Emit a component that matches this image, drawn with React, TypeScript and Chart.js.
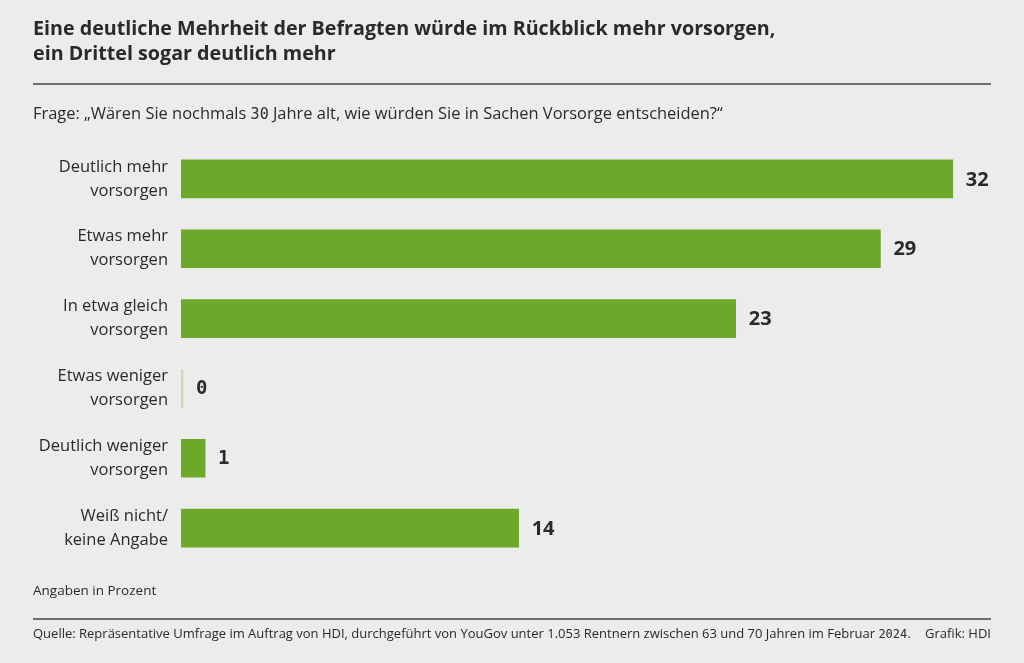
import React, { useEffect, useRef } from "react";
import { Chart, registerables } from "chart.js";

Chart.register(...registerables);

const categories: string[][] = [
  ["Deutlich mehr", "vorsorgen"],
  ["Etwas mehr", "vorsorgen"],
  ["In etwa gleich", "vorsorgen"],
  ["Etwas weniger", "vorsorgen"],
  ["Deutlich weniger", "vorsorgen"],
  ["Weiß nicht/", "keine Angabe"],
];
const values: number[] = [32, 29, 23, 0, 1, 14];
const axisMax = 34;

const GREEN = "#6ea82b";
const ZERO_COLOR = "#cdd7bb";
const TEXT = "#2a2a2a";
const BG = "#ececec";
const SANS = "'Open Sans', 'Noto Sans', sans-serif";
const MONO = "'DejaVu Sans Mono', monospace";

const valueLabels = {
  id: "valueLabels",
  afterDatasetsDraw(chart: any) {
    const ctx = chart.ctx;
    const meta = chart.getDatasetMeta(0);
    ctx.save();
    ctx.fillStyle = TEXT;
    ctx.textBaseline = "middle";
    ctx.textAlign = "left";
    meta.data.forEach((el: any, i: number) => {
      const v = values[i];
      ctx.font = v < 10 ? `bold 19px ${MONO}` : `bold 20px ${SANS}`;
      ctx.fillText(String(v), el.x + 13, el.y + 1);
    });
    ctx.restore();
  },
};

export default function App() {
  const ref = useRef<HTMLCanvasElement>(null);
  useEffect(() => {
    document.body.style.margin = "0";
    const chart = new Chart(ref.current!, {
      type: "bar",
      data: {
        labels: categories,
        datasets: [
          {
            data: values,
            backgroundColor: values.map((v) => (v === 0 ? ZERO_COLOR : GREEN)),
            barThickness: 38,
            minBarLength: 2,
            borderWidth: 0,
          },
        ],
      },
      options: {
        indexAxis: "y",
        animation: false,
        responsive: false,
        maintainAspectRatio: false,
        layout: { padding: { top: 144, bottom: 100, left: 0, right: 23 } },
        plugins: { legend: { display: false }, tooltip: { enabled: false } },
        scales: {
          x: { display: false, min: 0, max: axisMax },
          y: {
            afterFit(scale: any) {
              scale.width = 181;
            },
            grid: { display: false, drawTicks: false },
            border: { display: false },
            ticks: {
              padding: 13,
              color: TEXT,
              font: { family: SANS, size: 16.5, lineHeight: 1.45 },
            },
          },
        },
      },
      plugins: [valueLabels],
    });
    return () => chart.destroy();
  }, []);

  const text = (style: React.CSSProperties, children: React.ReactNode) => (
    <div style={{ position: "absolute", color: TEXT, fontFamily: SANS, whiteSpace: "nowrap", ...style }}>{children}</div>
  );

  return (
    <div style={{ position: "fixed", left: 0, top: 0, width: 1024, height: 663, background: BG, overflow: "hidden" }}>
      <canvas ref={ref} width={1024} height={663} style={{ position: "absolute", left: 0, top: 0, width: 1024, height: 663 }} />
      {text(
        { left: 33, top: 15, fontSize: 19.7, fontWeight: 700, lineHeight: "25px" },
        <>
          Eine deutliche Mehrheit der Befragten würde im Rückblick mehr vorsorgen,
          <br />
          ein Drittel sogar deutlich mehr
        </>
      )}
      <div style={{ position: "absolute", left: 33, top: 83, width: 958, height: 2, background: "#6f6f6f" }} />
      {text(
        { left: 33, top: 103, fontSize: 16.45, lineHeight: "20px" },
        <>
          Frage: „Wären Sie nochmals <span style={{ fontFamily: MONO, fontSize: 15 }}>30</span> Jahre alt, wie würden Sie in Sachen Vorsorge entscheiden?“
        </>
      )}
      {text({ left: 33, top: 581, fontSize: 13.5, lineHeight: "18px" }, "Angaben in Prozent")}
      <div style={{ position: "absolute", left: 33, top: 618, width: 958, height: 2, background: "#6f6f6f" }} />
      {text(
        { left: 33, top: 624, fontSize: 13, lineHeight: "18px" },
        <>
          Quelle: Repräsentative Umfrage im Auftrag von HDI, durchgeführt von YouGov unter 1.053 Rentnern zwischen 63 und 70 Jahren im Februar <span style={{ fontFamily: MONO, fontSize: 12 }}>2024</span>.
        </>
      )}
      {text({ right: 1024 - 991, top: 624, fontSize: 13, lineHeight: "18px" }, "Grafik: HDI")}
    </div>
  );
}
